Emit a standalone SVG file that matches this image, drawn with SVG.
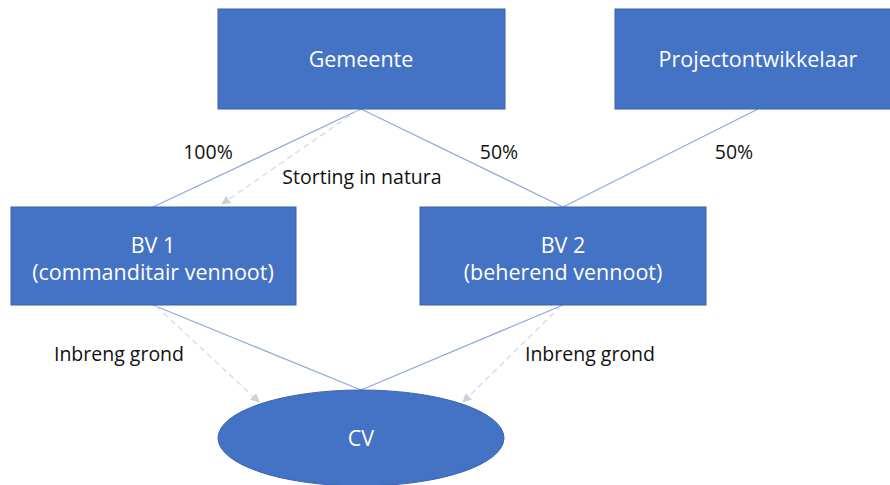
<svg xmlns="http://www.w3.org/2000/svg" width="890" height="485" viewBox="0 0 890 485">
  <style>
    .box { fill: #4472C4; stroke: #3a63ad; stroke-width: 1; }
    .name { font-family: "Open Sans", "Liberation Sans", sans-serif; font-size: 21.5px; fill: #ffffff; text-anchor: middle; }
    .lbl { font-family: "Open Sans", "Liberation Sans", sans-serif; font-size: 19.5px; fill: #111111; text-anchor: middle; }
    .link { stroke: #8faadc; stroke-width: 1.3; fill: none; }
    .flow { stroke: #d3dbe4; stroke-width: 1.3; fill: none; stroke-dasharray: 6 4; marker-end: url(#head); }
  </style>
  <defs>
    <marker id="head" viewBox="0 0 10 10" refX="9" refY="5" markerWidth="9" markerHeight="9" markerUnits="userSpaceOnUse" orient="auto">
      <path d="M0,0 L10,5 L0,10 z" fill="#c9d2dc"/>
    </marker>
  </defs>
  <rect width="890" height="485" fill="#ffffff"/>

  <g id="connectors">
    <line class="link" x1="361" y1="109" x2="153" y2="207"/>
    <line class="link" x1="361" y1="109" x2="563" y2="207"/>
    <line class="link" x1="758" y1="109" x2="563" y2="207"/>
    <line class="link" x1="153" y1="305" x2="361" y2="390"/>
    <line class="link" x1="563" y1="305" x2="361" y2="390"/>
    <line class="flow" x1="358" y1="110" x2="222" y2="204"/>
    <line class="flow" x1="156" y1="306" x2="259" y2="402"/>
    <line class="flow" x1="561" y1="306" x2="463" y2="402"/>
    <text class="lbl" x="208" y="159">100%</text>
    <text class="lbl" x="499" y="159">50%</text>
    <text class="lbl" x="734" y="159">50%</text>
    <text class="lbl" x="362" y="184">Storting in natura</text>
    <text class="lbl" x="119" y="361">Inbreng grond</text>
    <text class="lbl" x="590" y="361">Inbreng grond</text>
  </g>

  <g id="gemeente">
    <rect class="box" x="218" y="9" width="287" height="100"/>
    <text class="name" x="361" y="67">Gemeente</text>
  </g>
  <g id="projectontwikkelaar">
    <rect class="box" x="615" y="9" width="280" height="100"/>
    <text class="name" x="758" y="67">Projectontwikkelaar</text>
  </g>
  <g id="bv1">
    <rect class="box" x="11" y="207" width="285" height="98"/>
    <text class="name" x="153" y="253">BV 1</text>
    <text class="name" x="153" y="280">(commanditair vennoot)</text>
  </g>
  <g id="bv2">
    <rect class="box" x="420" y="207" width="286" height="98"/>
    <text class="name" x="563" y="253">BV 2</text>
    <text class="name" x="563" y="280">(beherend vennoot)</text>
  </g>
  <g id="cv">
    <ellipse class="box" cx="361" cy="438" rx="143" ry="48"/>
    <text class="name" x="361" y="446">CV</text>
  </g>
</svg>
